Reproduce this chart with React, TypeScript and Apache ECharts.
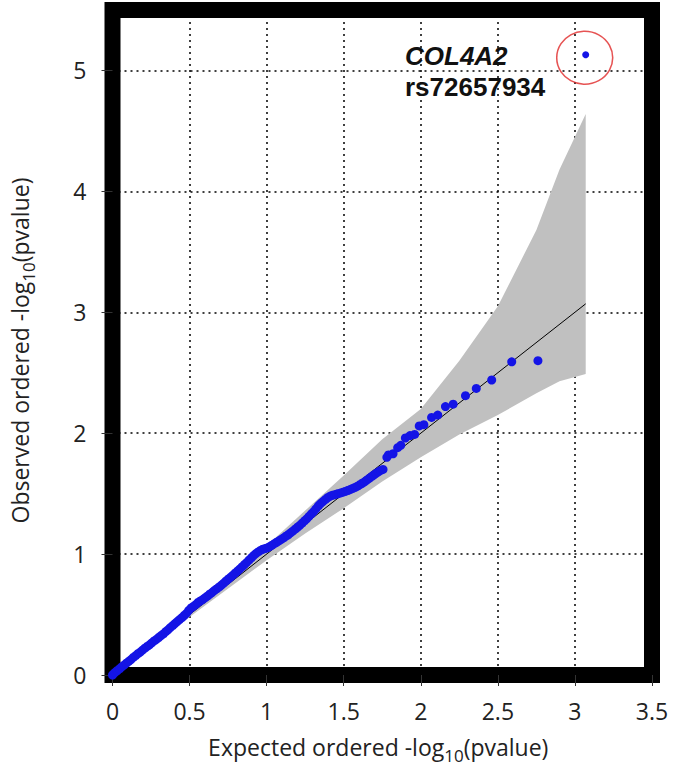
import React, { useEffect, useRef } from "react";
import * as echarts from "echarts";

// Q-Q points: expected vs observed -log10(p)
const expectedX = [
  0.0, 0.015, 0.03, 0.045, 0.06, 0.075, 0.09, 0.105, 0.12, 0.135, 0.15, 0.165, 0.18, 0.195, 0.21, 0.225, 0.24,
  0.255, 0.27, 0.285, 0.3, 0.315, 0.33, 0.345, 0.36, 0.375, 0.39, 0.405, 0.42, 0.435, 0.45, 0.465, 0.48, 0.495,
  0.51, 0.525, 0.54, 0.555, 0.57, 0.585, 0.6, 0.615, 0.63, 0.645, 0.66, 0.675, 0.69, 0.705, 0.72, 0.735, 0.75,
  0.765, 0.78, 0.795, 0.81, 0.825, 0.84, 0.855, 0.87, 0.885, 0.9, 0.915, 0.93, 0.945, 0.96, 0.975, 0.99, 1.005,
  1.02, 1.035, 1.05, 1.065, 1.08, 1.095, 1.11, 1.125, 1.14, 1.155, 1.17, 1.185, 1.2, 1.215, 1.23, 1.245, 1.26,
  1.275, 1.29, 1.305, 1.32, 1.335, 1.35, 1.365, 1.38, 1.395, 1.41, 1.425, 1.44, 1.455, 1.47, 1.485, 1.5, 1.515,
  1.53, 1.545, 1.56, 1.575, 1.59, 1.605, 1.62, 1.635, 1.65, 1.665, 1.68, 1.695, 1.71, 1.725, 1.74, 1.755,
  1.78, 1.79, 1.82, 1.85, 1.87, 1.9, 1.93, 1.96, 1.99, 2.02, 2.07, 2.11, 2.16, 2.21, 2.29, 2.36, 2.46, 2.59, 2.76,
];
const observedY = [
  0.0, 0.02, 0.035, 0.05, 0.068, 0.082, 0.098, 0.112, 0.128, 0.145, 0.16, 0.176, 0.19, 0.206, 0.222, 0.236, 0.25,
  0.266, 0.282, 0.295, 0.31, 0.326, 0.34, 0.358, 0.374, 0.392, 0.408, 0.425, 0.442, 0.458, 0.474, 0.492, 0.51,
  0.535, 0.555, 0.568, 0.582, 0.6, 0.612, 0.624, 0.638, 0.652, 0.668, 0.682, 0.698, 0.712, 0.726, 0.742, 0.758,
  0.776, 0.792, 0.808, 0.824, 0.842, 0.858, 0.876, 0.894, 0.912, 0.93, 0.95, 0.968, 0.988, 1.004, 1.018, 1.03,
  1.04, 1.046, 1.052, 1.062, 1.074, 1.086, 1.098, 1.11, 1.122, 1.134, 1.148, 1.16, 1.176, 1.19, 1.206, 1.222,
  1.238, 1.256, 1.274, 1.292, 1.312, 1.332, 1.352, 1.374, 1.398, 1.418, 1.434, 1.45, 1.466, 1.478, 1.486, 1.49,
  1.496, 1.502, 1.508, 1.514, 1.52, 1.528, 1.536, 1.544, 1.552, 1.562, 1.574, 1.586, 1.598, 1.612, 1.626, 1.64,
  1.654, 1.668, 1.68, 1.692, 1.7,
  1.8, 1.82, 1.83, 1.88, 1.9, 1.96, 1.98, 1.99, 2.06, 2.07, 2.13, 2.15, 2.22, 2.24, 2.31, 2.37, 2.44, 2.59, 2.6,
];

// highlighted SNP
const topHitX = [3.07];
const topHitY = [5.13];
const topHitGene = "COL4A2";
const topHitSnp = "rs72657934";

// confidence band
const bandX = [0, 0.5, 1.0, 1.25, 1.5, 1.75, 2.0, 2.25, 2.5, 2.75, 2.9, 3.07];
const bandUpper = [0.01, 0.53, 1.07, 1.36, 1.65, 1.95, 2.2, 2.6, 3.05, 3.68, 4.18, 4.64];
const bandLower = [0, 0.48, 0.95, 1.17, 1.38, 1.6, 1.8, 1.99, 2.15, 2.33, 2.43, 2.49];

// expected line y = x
const refLineX = [0, 3.07];

// axis ticks
const xTicks = { min: 0, max: 3.5, interval: 0.5 };
const yTicks = { min: 0, max: 5.5, interval: 1 };

const FONT = "Open Sans";

export default function App() {
  const ref = useRef<HTMLDivElement>(null);

  useEffect(() => {
    document.body.style.margin = "0";
    if (!ref.current) return;
    const chart = echarts.init(ref.current, null, { renderer: "svg" });

    const points = expectedX.map((x, i) => [x, observedY[i]]);
    const hit = topHitX.map((x, i) => [x, topHitY[i]]);
    const bandData = bandX.map((x, i) => [x, bandLower[i], bandUpper[i]]);

    const nameRich = {
      a: { fontFamily: FONT, fontSize: 23, color: "#222", lineHeight: 34, verticalAlign: "middle" },
      s: { fontFamily: FONT, fontSize: 17, color: "#222", lineHeight: 17, verticalAlign: "bottom" },
    };

    chart.setOption({
      animation: false,
      backgroundColor: "#fff",
      grid: {
        left: 104,
        right: 23,
        top: 10,
        bottom: 92,
        show: true,
        borderWidth: 16,
        borderColor: "#000",
        backgroundColor: "#fff",
      },
      xAxis: {
        type: "value",
        min: xTicks.min,
        max: xTicks.max,
        interval: xTicks.interval,
        axisLine: { show: false },
        axisTick: { show: true, length: 11, lineStyle: { color: "#333", width: 1 } },
        axisLabel: { fontFamily: FONT, fontSize: 23, color: "#222", margin: 24 },
        splitLine: { show: true, lineStyle: { color: "#000", width: 1.5, type: [2, 4] } },
        name: "{a|Expected ordered -log}{s|10}{a|(pvalue)}",
        nameLocation: "middle",
        nameGap: 55,
        nameTextStyle: { rich: nameRich, padding: [0, 8, 0, 0] },
      },
      yAxis: {
        type: "value",
        min: yTicks.min,
        max: yTicks.max,
        interval: yTicks.interval,
        axisLine: { show: false },
        axisTick: { show: true, length: 11, lineStyle: { color: "#333", width: 1 } },
        axisLabel: { fontFamily: FONT, fontSize: 23, color: "#222", margin: 26, showMaxLabel: false },
        splitLine: { show: true, lineStyle: { color: "#000", width: 1.5, type: [2, 4] } },
        name: "{a|Observed ordered -log}{s|10}{a|(pvalue)}",
        nameLocation: "middle",
        nameRotate: 90,
        nameGap: 76,
        nameTextStyle: { rich: nameRich, padding: [0, 16, 0, 0] },
      },
      series: [
        {
          name: "band",
          type: "custom",
          z: 1,
          clip: true,
          data: bandData,
          encode: { x: 0, y: [1, 2] },
          renderItem: (params: any, api: any) => {
            if (params.dataIndex !== 0) return null;
            const up = bandX.map((x, i) => api.coord([x, bandUpper[i]]));
            const lo = bandX.map((x, i) => api.coord([x, bandLower[i]])).reverse();
            return {
              type: "polygon",
              shape: { points: up.concat(lo) },
              style: { fill: "#c0c0c0", stroke: "none" },
            };
          },
        },
        {
          name: "expected",
          type: "line",
          z: 2,
          data: refLineX.map((x) => [x, x]),
          symbol: "none",
          lineStyle: { color: "#000", width: 1 },
        },
        {
          name: "observed",
          type: "scatter",
          z: 3,
          data: points,
          symbol: "circle",
          symbolSize: 9,
          itemStyle: { color: "#1414e6", opacity: 1 },
        },
        {
          name: "top hit",
          type: "scatter",
          z: 3,
          data: hit,
          symbol: "circle",
          symbolSize: 7,
          itemStyle: { color: "#1414e6", opacity: 1 },
        },
        {
          name: "highlight",
          type: "scatter",
          z: 4,
          data: hit,
          symbol: "circle",
          symbolSize: [56, 53],
          symbolOffset: [-1, 3],
          itemStyle: { color: "rgba(0,0,0,0)", borderColor: "#e02828", borderWidth: 1.5 },
          silent: true,
        },
      ],
      graphic: [
        {
          type: "text",
          x: 405,
          y: 56,
          z: 10,
          style: {
            text: topHitGene,
            fontFamily: "Liberation Sans",
            fontStyle: "italic",
            fontWeight: "bold",
            fontSize: 26,
            fill: "#111",
            verticalAlign: "middle",
          },
        },
        {
          type: "text",
          x: 405,
          y: 87,
          z: 10,
          style: {
            text: topHitSnp,
            fontFamily: "Liberation Sans",
            fontWeight: "bold",
            fontSize: 26,
            fill: "#111",
            verticalAlign: "middle",
          },
        },
      ],
    });

    return () => chart.dispose();
  }, []);

  return <div ref={ref} style={{ width: 675, height: 769 }} />;
}
